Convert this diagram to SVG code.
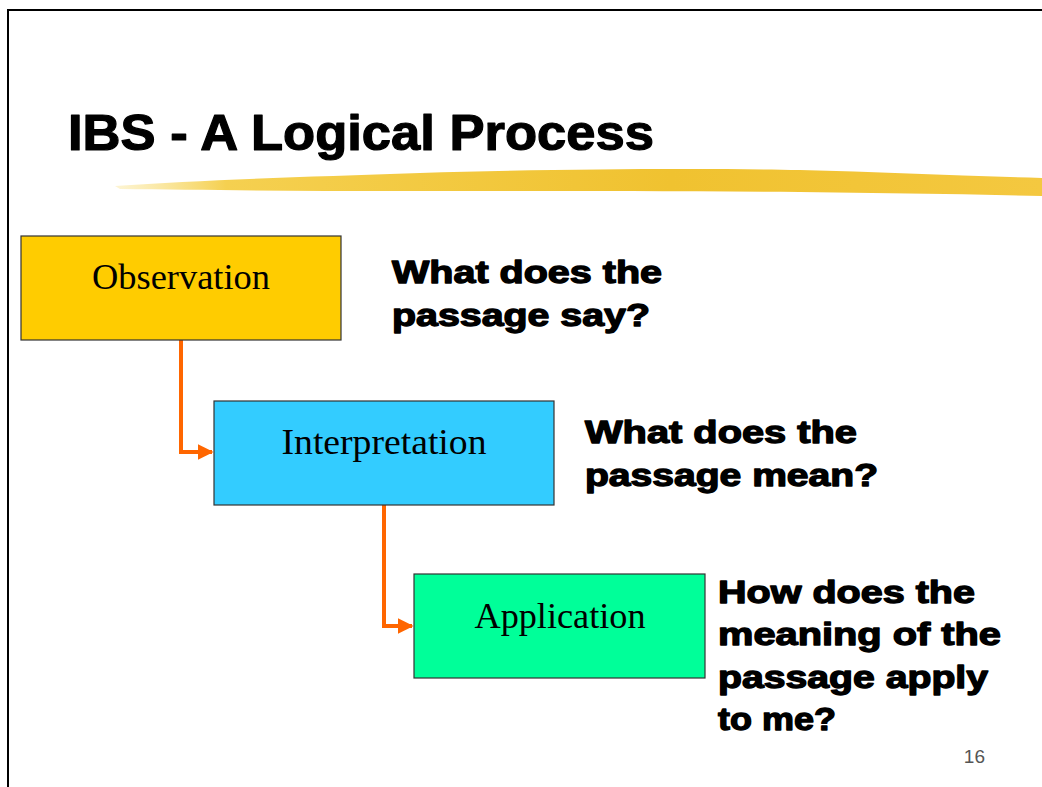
<svg xmlns="http://www.w3.org/2000/svg" width="1042" height="787" viewBox="0 0 1042 787">
<style>
.box{stroke:#333;stroke-width:1.2}
.lbl{font-family:"Liberation Serif",serif;font-size:35px;fill:#000;text-anchor:middle}
.q{font-family:"Liberation Sans",Arial,sans-serif;font-size:31px;font-weight:bold;fill:#000;stroke:#000;stroke-width:1.3;stroke-linejoin:round}
.con{fill:none;stroke:#FF6600;stroke-width:4;marker-end:url(#arr)}
</style>
<defs>
<marker id="arr" viewBox="0 0 10 10" refX="9" refY="5" markerWidth="4" markerHeight="4" orient="auto" markerUnits="strokeWidth">
<path d="M0,0 L10,5 L0,10 Z" fill="#FF6600"/>
</marker>
<linearGradient id="brush" x1="0" y1="0" x2="1" y2="0">
<stop offset="0" stop-color="#F8DC70" stop-opacity="0.3"/>
<stop offset="0.12" stop-color="#F5D050"/>
<stop offset="0.6" stop-color="#F0C230"/>
<stop offset="1" stop-color="#F4C840"/>
</linearGradient>
</defs>
<rect x="0" y="0" width="1042" height="787" fill="#fff"/>
<path d="M8,787 V10 H1042" fill="none" stroke="#000" stroke-width="2"/>
<g id="title">
<text x="68" y="150" font-family="Liberation Sans,Arial,sans-serif" font-size="50" font-weight="bold" fill="#000" stroke="#000" stroke-width="1.2" stroke-linejoin="round" textLength="586" lengthAdjust="spacingAndGlyphs">IBS - A Logical Process</text>
<path d="M115,186 C200,180 300,177 420,173 C550,169 700,168 800,170 C880,172 960,176 1042,178 L1042,196 C960,194 880,193 800,192 C650,191 500,191 400,191 C300,191 200,190 120,189 Z" fill="url(#brush)"/>
</g>
<g id="connectors">
<path class="con" d="M181,340 V452 H212"/>
<path class="con" d="M384,505 V626 H412"/>
</g>
<g id="observation">
<rect class="box" x="21" y="236" width="320" height="104" fill="#FFCC00"/>
<text class="lbl" x="181" y="289" textLength="178" lengthAdjust="spacingAndGlyphs">Observation</text>
</g>
<g id="interpretation">
<rect class="box" x="214" y="401" width="340" height="104" fill="#33CCFF"/>
<text class="lbl" x="384" y="454" textLength="205" lengthAdjust="spacingAndGlyphs">Interpretation</text>
</g>
<g id="application">
<rect class="box" x="414" y="574" width="291" height="104" fill="#00FF99"/>
<text class="lbl" x="560" y="628" textLength="171" lengthAdjust="spacingAndGlyphs">Application</text>
</g>
<g id="q1">
<text class="q" x="392" y="283" textLength="270" lengthAdjust="spacingAndGlyphs">What does the</text>
<text class="q" x="392" y="326" textLength="258" lengthAdjust="spacingAndGlyphs">passage say?</text>
</g>
<g id="q2">
<text class="q" x="585" y="443" textLength="272" lengthAdjust="spacingAndGlyphs">What does the</text>
<text class="q" x="585" y="486" textLength="293" lengthAdjust="spacingAndGlyphs">passage mean?</text>
</g>
<g id="q3">
<text class="q" x="718" y="603" textLength="257" lengthAdjust="spacingAndGlyphs">How does the</text>
<text class="q" x="718" y="645" textLength="283" lengthAdjust="spacingAndGlyphs">meaning of the</text>
<text class="q" x="718" y="688" textLength="270" lengthAdjust="spacingAndGlyphs">passage apply</text>
<text class="q" x="718" y="730" textLength="118" lengthAdjust="spacingAndGlyphs">to me?</text>
</g>
<text x="985" y="763" text-anchor="end" font-family="Liberation Sans,Arial,sans-serif" font-size="19" fill="#555">16</text>
</svg>
